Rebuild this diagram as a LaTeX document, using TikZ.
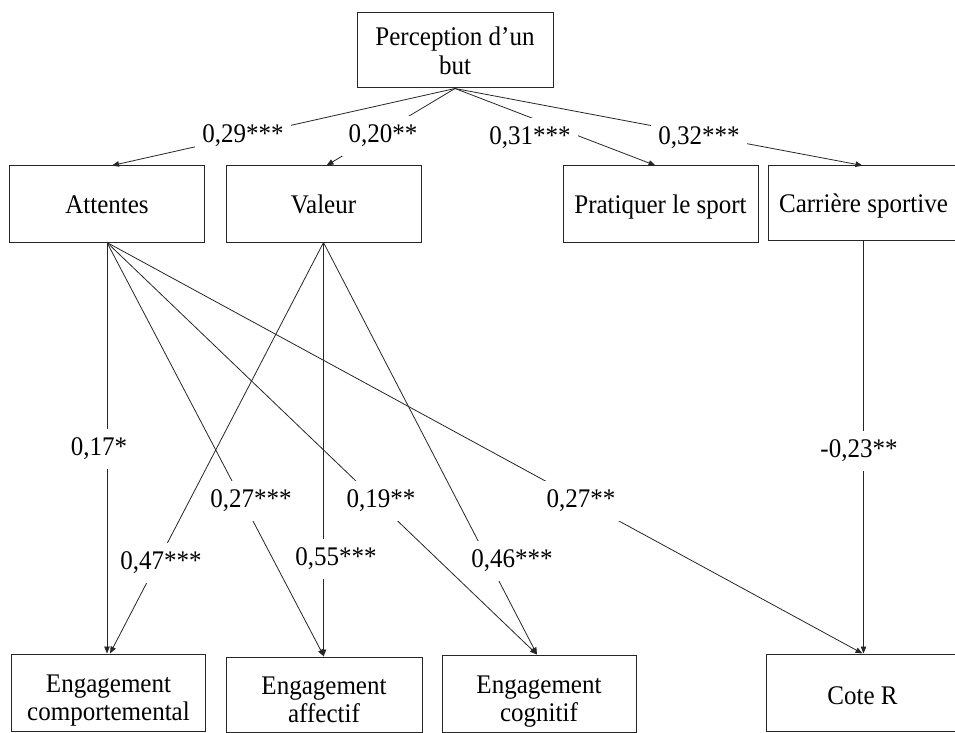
\documentclass[tikz,border=0pt]{standalone}
\usepackage{fontspec}
\setmainfont{Liberation Serif}[FakeStretch=0.93]
\usetikzlibrary{arrows.meta}
\begin{document}
\begin{tikzpicture}[x=1bp,y=-1bp,
  box/.style={draw=black!85, line width=1bp, fill=white, align=center, inner sep=0pt,
    text depth=0pt, font=\fontsize{27}{28.5}\selectfont},
  single/.style={text height=18bp},
  lower/.style={text height=56bp},
  arr/.style={draw=black!85, line width=0.8bp, -{Triangle[length=7bp,width=5.5bp]}},
  lab/.style={fill=white, inner xsep=7bp, inner ysep=9bp, font=\fontsize{27}{28.5}\selectfont}]
\useasboundingbox (0,0) rectangle (955,733);
% boxes
\node[box, minimum width=196bp, minimum height=75bp] (perc) at (455,50.5) {Perception d’un\\but};
\node[box, single, minimum width=194bp, minimum height=76bp] (att) at (107,204) {Attentes};
\node[box, single, minimum width=195bp, minimum height=76bp] (val) at (323.5,204) {Valeur};
\node[box, single, minimum width=195bp, minimum height=76bp] (prat) at (660.5,204) {Pratiquer le sport};
\node[box, single, minimum width=191bp, minimum height=74bp] (carr) at (863.5,203) {Carrière sportive};
\node[box, lower, minimum width=193bp, minimum height=77bp] (comp) at (108.5,692.5) {Engagement\\comportemental};
\node[box, lower, minimum width=196bp, minimum height=75bp] (aff) at (324,694.5) {Engagement\\affectif};
\node[box, lower, minimum width=194bp, minimum height=77bp] (cog) at (539,693.5) {Engagement\\cognitif};
\node[box, text height=23bp, minimum width=193bp, minimum height=77bp] (cote) at (862.5,692.5) {Cote R};
% top connectors
\draw[arr] (perc.south) -- ([xshift=5bp]att.north);
\draw[arr] (perc.south) -- ([xshift=3bp]val.north);
\draw[arr] (perc.south) -- ([xshift=-5bp]prat.north);
\draw[arr] (perc.south) -- ([xshift=-1bp]carr.north);
% lower connectors
\draw[arr] (att.south) -- (att.south |- comp.north);
\draw[arr] (att.south) -- (aff.north);
\draw[arr] (att.south) -- ([xshift=-2bp]cog.north);
\draw[arr] (att.south) -- (cote.north);
\draw[arr] (val.south) -- ([xshift=1.5bp]comp.north);
\draw[arr] (val.south) -- (val.south |- aff.north);
\draw[arr] (val.south) -- ([xshift=-2bp]cog.north);
\draw[arr] (carr.south) -- (carr.south |- cote.north);
% labels
\node[lab] (l29) at (243,136) {0,29***};
\node[lab] (l20) at (383,136) {0,20**};
\node[lab] (l31) at (530,138) {0,31***};
\node[lab] (l32) at (699,138) {0,32***};
\node[lab] (l17) at (99,449) {0,17*};
\node[lab] (l23) at (859,451) {-0,23**};
\node[lab] (l27a) at (251,501) {0,27***};
\node[lab] (l19) at (381,501) {0,19**};
\node[lab] (l27b) at (581,501) {0,27**};
\node[lab] (l47) at (161,563) {0,47***};
\node[lab] (l55) at (336,559) {0,55***};
\node[lab] (l46) at (512,561) {0,46***};
\end{tikzpicture}
\end{document}
